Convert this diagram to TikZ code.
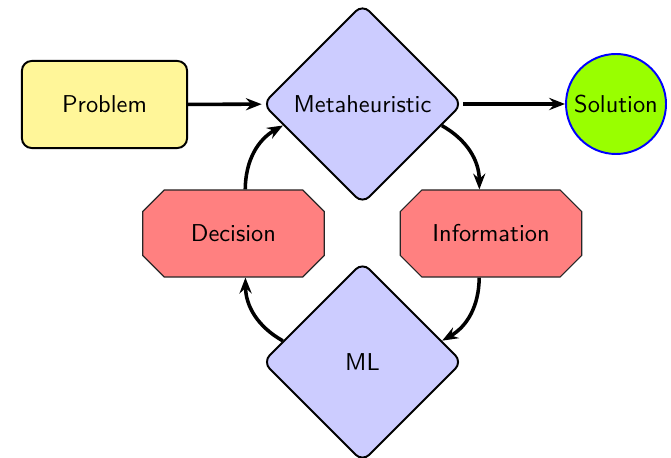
\documentclass[tikz,border=0pt]{standalone}
\usetikzlibrary{shapes.geometric,shapes.misc,arrows.meta}
\renewcommand{\familydefault}{\sfdefault}
\definecolor{probfill}{RGB}{255,246,153}
\definecolor{metafill}{RGB}{204,204,255}
\definecolor{solfill}{RGB}{153,255,0}
\definecolor{decfill}{RGB}{255,128,128}
\tikzset{
  probbox/.style={rectangle, rounded corners=4pt, draw=black, line width=0.8pt, fill=probfill,
    minimum width=67.7pt, minimum height=35.7pt, inner sep=0pt},
  metabox/.style={diamond, aspect=1, rounded corners=4pt, draw=black, line width=0.8pt, fill=metafill,
    minimum width=82pt, minimum height=82pt, inner sep=0pt},
  solbox/.style={circle, draw=blue, line width=0.8pt, fill=solfill, minimum size=41pt, inner sep=0pt},
  decbox/.style={chamfered rectangle, chamfered rectangle xsep=5.3pt, chamfered rectangle ysep=5.3pt,
    draw=black!85, line width=0.45pt, fill=decfill,
    minimum width=74.4pt, minimum height=35.7pt, inner sep=0pt},
  arr/.style={-{Stealth[length=6.5pt,width=5pt,inset=2.2pt]}, line width=1.45pt}
}
\begin{document}
\begin{tikzpicture}[x=0.41pt,y=-0.41pt]
\useasboundingbox (0,0) rectangle (671,457);
\node[probbox] (prob) at (104.5,104.5) {Problem};
\node[metabox] (meta) at (362.5,104) {Metaheuristic};
\node[solbox] (sol) at (616,104) {Solution};
\node[decbox] (dec) at (233.5,233.5) {Decision};
\node[decbox] (info) at (491,233.5) {Information};
\node[metabox] (ml) at (362.5,362) {ML};
\draw[arr] (prob) -- (meta);
\draw[arr] (meta) -- (sol);
\draw[arr] (meta) to[bend left] (info);
\draw[arr] (info) to[bend left] (ml);
\draw[arr] (ml) to[bend left] (dec);
\draw[arr] (dec) to[bend left] (meta);
\end{tikzpicture}
\end{document}
